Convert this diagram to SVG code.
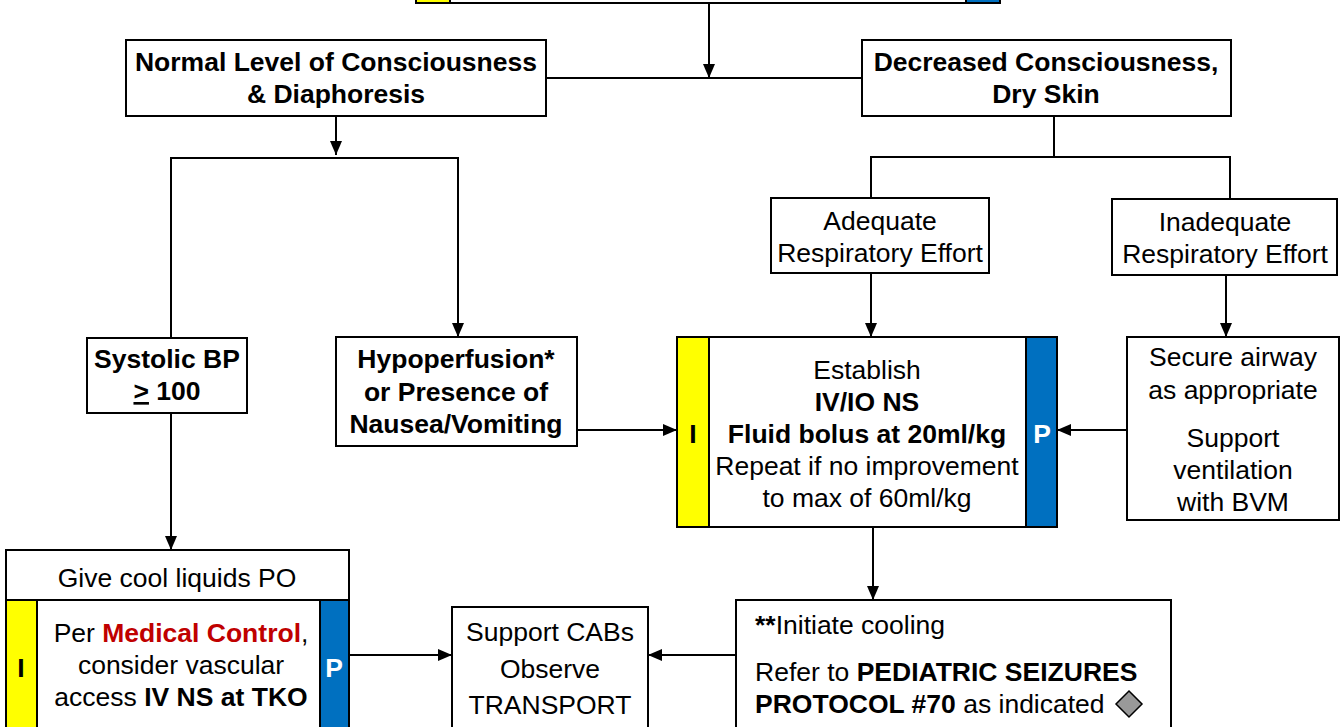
<svg xmlns="http://www.w3.org/2000/svg" width="1342" height="727" viewBox="0 0 1342 727">
<style>
text{font-family:"Liberation Sans",Arial,sans-serif;font-size:26.5px;fill:#000;text-anchor:middle}
.b{font-weight:bold}
.box{fill:#fff;stroke:#000;stroke-width:2}
.y{fill:#ffff00;stroke:#000;stroke-width:2}
.bl{fill:#0070c0;stroke:#000;stroke-width:2}
.c{fill:none;stroke:#000;stroke-width:2}
.l{text-anchor:start}
.w{fill:#fff}
.red{fill:#c00000}
</style>
<defs>
<marker id="ah" markerUnits="userSpaceOnUse" markerWidth="14" markerHeight="12" refX="14" refY="6" orient="auto">
<path d="M0,0 L14,6 L0,12 z" fill="#000"/>
</marker>
</defs>
<g id="connectors">
<path class="c" d="M709,3 V78" marker-end="url(#ah)"/>
<path class="c" d="M546,78 H862"/>
<path class="c" d="M336,116 V155" marker-end="url(#ah)"/>
<path class="c" d="M171,338 V158 H458 V337" marker-end="url(#ah)"/>
<path class="c" d="M171,413 V550" marker-end="url(#ah)"/>
<path class="c" d="M577,430 H677" marker-end="url(#ah)"/>
<path class="c" d="M1054,116 V157"/>
<path class="c" d="M871,198 V157 H1230 V199"/>
<path class="c" d="M871,273 V337" marker-end="url(#ah)"/>
<path class="c" d="M1226,275 V337" marker-end="url(#ah)"/>
<path class="c" d="M1127,430 H1057" marker-end="url(#ah)"/>
<path class="c" d="M873,527 V600" marker-end="url(#ah)"/>
<path class="c" d="M736,655 H648" marker-end="url(#ah)"/>
<path class="c" d="M349,655 H452" marker-end="url(#ah)"/>
</g>
<g id="top">
<rect class="box" x="416" y="-60" width="584" height="63"/>
<rect class="y" x="416" y="-60" width="34" height="63"/>
<rect class="bl" x="966" y="-60" width="34" height="63"/>
</g>
<g id="normal">
<rect class="box" x="126" y="40" width="420" height="76"/>
<text class="b" x="336" y="71">Normal Level of Consciousness</text>
<text class="b" x="336" y="103">&amp; Diaphoresis</text>
</g>
<g id="decreased">
<rect class="box" x="862" y="40" width="369" height="76"/>
<text class="b" x="1046" y="71">Decreased Consciousness,</text>
<text class="b" x="1046" y="103">Dry Skin</text>
</g>
<g id="systolic">
<rect class="box" x="87" y="338" width="160" height="75"/>
<text class="b" x="167" y="368">Systolic BP</text>
<text class="b" x="167" y="400"><tspan text-decoration="underline">&gt;</tspan> 100</text>
</g>
<g id="hypoperfusion">
<rect class="box" x="336" y="337" width="241" height="109"/>
<text class="b" x="456" y="368">Hypoperfusion*</text>
<text class="b" x="456" y="401">or Presence of</text>
<text class="b" x="456" y="433">Nausea/Vomiting</text>
</g>
<g id="adequate">
<rect class="box" x="771" y="198" width="218" height="75"/>
<text x="880" y="230">Adequate</text>
<text x="880" y="262">Respiratory Effort</text>
</g>
<g id="inadequate">
<rect class="box" x="1112" y="199" width="225" height="76"/>
<text x="1225" y="231">Inadequate</text>
<text x="1225" y="263">Respiratory Effort</text>
</g>
<g id="establish">
<rect class="box" x="677" y="337" width="380" height="190"/>
<rect class="y" x="677" y="337" width="32" height="190"/>
<rect class="bl" x="1026" y="337" width="31" height="190"/>
<text class="b" x="693" y="443">I</text>
<text class="b w" x="1042" y="443">P</text>
<text x="867" y="379">Establish</text>
<text class="b" x="867" y="411">IV/IO NS</text>
<text class="b" x="867" y="443">Fluid bolus at 20ml/kg</text>
<text x="867" y="475">Repeat if no improvement</text>
<text x="867" y="507">to max of 60ml/kg</text>
</g>
<g id="secure">
<rect class="box" x="1127" y="337" width="212" height="183"/>
<text x="1233" y="366">Secure airway</text>
<text x="1233" y="399">as appropriate</text>
<text x="1233" y="447">Support</text>
<text x="1233" y="479">ventilation</text>
<text x="1233" y="511">with BVM</text>
</g>
<g id="cool">
<rect class="box" x="6" y="550" width="343" height="180"/>
<line class="c" x1="6" y1="600" x2="349" y2="600"/>
<rect class="y" x="6" y="600" width="31" height="130"/>
<rect class="bl" x="320" y="600" width="29" height="130"/>
<text x="177" y="587">Give cool liquids PO</text>
<text class="b" x="21" y="677">I</text>
<text class="b w" x="334" y="677">P</text>
<text x="181" y="642">Per <tspan class="b red">Medical Control</tspan>,</text>
<text x="181" y="674">consider vascular</text>
<text x="181" y="706">access <tspan class="b">IV NS at TKO</tspan></text>
</g>
<g id="support">
<rect class="box" x="452" y="607" width="196" height="123"/>
<text x="550" y="641">Support CABs</text>
<text x="550" y="678">Observe</text>
<text x="550" y="714">TRANSPORT</text>
</g>
<g id="cooling">
<rect class="box" x="736" y="600" width="435" height="130"/>
<text class="l" x="755" y="634"><tspan class="b">**</tspan>Initiate cooling</text>
<text class="l" x="755" y="681">Refer to <tspan class="b">PEDIATRIC SEIZURES</tspan></text>
<text class="l" x="755" y="713"><tspan class="b">PROTOCOL #70</tspan> as indicated</text>
<path d="M1129,691 L1142,704 L1129,717 L1116,704 z" fill="#999" stroke="#000" stroke-width="1.5"/>
</g>
</svg>
